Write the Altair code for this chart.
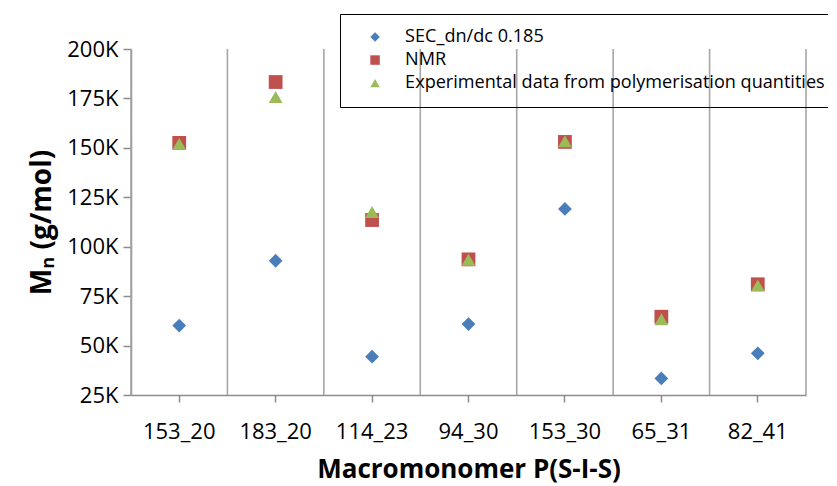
import altair as alt
import pandas as pd

categories = ["153_20", "183_20", "114_23", "94_30", "153_30", "65_31", "82_41"]
sec = [60100, 92900, 44400, 60900, 119100, 33400, 46100]
nmr = [152500, 183300, 113500, 93600, 153000, 64600, 81000]
exp = [152000, 175700, 117600, 93400, 153300, 63300, 80400]
series = ["SEC_dn/dc 0.185", "NMR", "Experimental data from polymerisation quantities"]
colors = ["#4a7ebb", "#c0504d", "#9bbb59"]
shapes = ["diamond", "square", "triangle-up"]
y_ticks = [25000, 50000, 75000, 100000, 125000, 150000, 175000, 200000]

rows = []
for name, vals in zip(series, [sec, nmr, exp]):
    for c, v in zip(categories, vals):
        rows.append({"cat": c, "value": v, "series": name})
df = pd.DataFrame(rows)
grid_df = pd.DataFrame({"cat": categories})

W, H = 675, 346
FONT = "Open Sans"
GRAY = "#8c8c8c"

xscale = alt.Scale(domain=categories, paddingInner=0, paddingOuter=0)
x_axis = alt.Axis(
    title="Macromonomer P(S-I-S)",
    labelAngle=0,
    grid=False,
    domain=True,
    bandPosition=0.5,
    labelFontSize=22,
    labelFont=FONT,
    labelColor="#000000",
    labelPadding=19,
    titleFontSize=26,
    titleFont=FONT,
    titleFontWeight="bold",
    titleColor="#000000",
    titlePadding=14,
    domainColor=GRAY,
    domainWidth=1.5,
    tickColor=GRAY,
    tickSize=7,
    tickWidth=1.5,
)

grid = alt.Chart(grid_df).mark_rule(color="#a6a6a6", strokeWidth=1.6).encode(
    x=alt.X("cat:N", bandPosition=0, scale=xscale, sort=categories, axis=x_axis),
    y=alt.value(0),
    y2=alt.value(H),
)
right_edge = alt.Chart(grid_df.head(1)).mark_rule(color="#a6a6a6", strokeWidth=1.6).encode(
    x=alt.value(W), y=alt.value(0), y2=alt.value(H)
)

points = alt.Chart(df).mark_point(filled=True, size=190, opacity=1).encode(
    x=alt.X("cat:N", scale=xscale, sort=categories, axis=x_axis),
    y=alt.Y(
        "value:Q",
        scale=alt.Scale(domain=[25000, 200000], nice=False, zero=False),
        axis=alt.Axis(
            title="Mₙ (g/mol)",
            values=y_ticks,
            labelExpr="datum.value / 1000 + 'K'",
            grid=False,
            domain=True,
            labelFontSize=22,
            labelFont=FONT,
            labelColor="#000000",
            labelPadding=5,
            titleFontSize=28,
            titleFont=FONT,
            titleFontWeight="bold",
            titleColor="#000000",
            titlePadding=10,
            domainColor=GRAY,
            domainWidth=1.5,
            tickColor=GRAY,
            tickSize=8,
            tickWidth=1.5,
        ),
    ),
    color=alt.Color(
        "series:N",
        scale=alt.Scale(domain=series, range=colors),
        sort=series,
        legend=alt.Legend(
            title=None,
            orient="none",
            legendX=209,
            legendY=-35,
            strokeColor="#000000",
            padding=14,
            rowPadding=4,
            symbolOffset=12,
            symbolSize=90,
            labelFontSize=18.1,
            labelFont=FONT,
            labelColor="#000000",
            labelLimit=0,
            labelOffset=21,
        ),
    ),
    shape=alt.Shape(
        "series:N",
        scale=alt.Scale(domain=series, range=shapes),
        sort=series,
    ),
)

chart = (
    alt.layer(grid, right_edge, points)
    .properties(
        width=W,
        height=H,
        autosize=alt.AutoSizeParams(type="none"),
        padding={"left": 123, "top": 41, "right": 22, "bottom": 90},
        background="#ffffff",
    )
    .configure_view(stroke=None)
)

chart.save("out.html", embed_options={"renderer": "svg", "actions": False})
